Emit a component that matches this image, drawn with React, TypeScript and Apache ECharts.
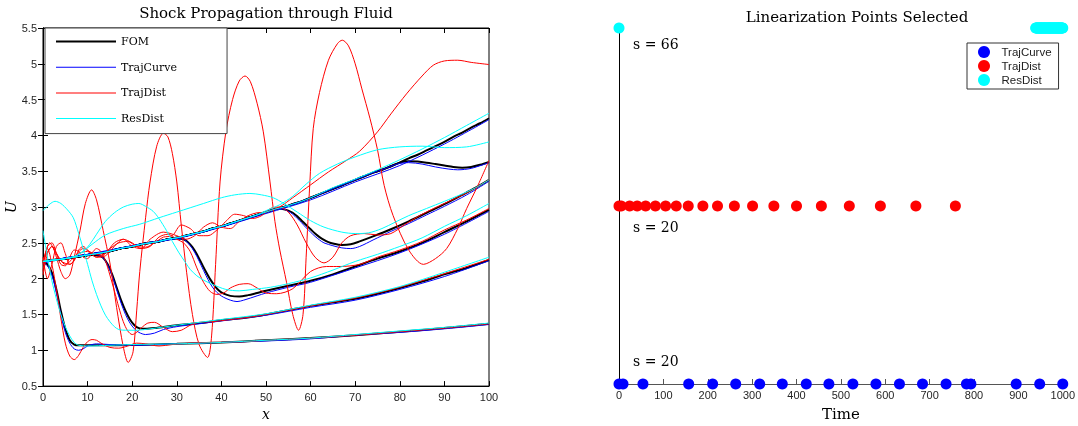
import React, { useEffect, useRef } from 'react';
import * as echarts from 'echarts';

type P = [number, number];

// ---------- Left panel: shock propagation (x, U) ----------
const X_TICKS_LEFT = [0, 10, 20, 30, 40, 50, 60, 70, 80, 90, 100];
const Y_TICKS_LEFT = [0.5, 1, 1.5, 2, 2.5, 3, 3.5, 4, 4.5, 5, 5.5];

// Upstream profile shared by all snapshots before their shock
const UP: P[] = [
  [0, 2.24], [2, 2.26], [4, 2.27], [6, 2.29], [8, 2.31], [10, 2.33], [12, 2.35], [14, 2.37], [16, 2.4],
  [18, 2.43], [20, 2.45], [22, 2.48], [24, 2.5], [26, 2.52], [28, 2.55], [30, 2.57], [32, 2.6], [34, 2.63],
  [36, 2.66], [38, 2.7], [40, 2.73], [42, 2.77], [44, 2.81], [46, 2.85], [48, 2.89], [50, 2.93], [52, 2.97],
  [54, 3.0], [56, 3.04], [58, 3.08], [60, 3.13], [62, 3.18], [64, 3.23], [66, 3.28], [68, 3.33], [70, 3.38],
  [72, 3.43], [74, 3.48], [76, 3.52], [78, 3.57], [80, 3.62], [82, 3.68], [84, 3.73], [86, 3.79], [88, 3.85],
  [90, 3.91], [92, 3.98], [94, 4.04], [96, 4.11], [98, 4.17], [100, 4.24],
];
const upTo = (x: number): P[] => UP.filter((p) => p[0] <= x);

// FOM snapshots
const fomA: P[] = [[0, 2.24], [1, 2.2], [2, 2.08], [3, 1.85], [4, 1.55], [5, 1.3], [6, 1.14], [7, 1.08], [8, 1.07], [12, 1.07], [20, 1.075], [30, 1.09], [40, 1.11], [50, 1.14], [60, 1.17], [70, 1.21], [80, 1.26], [90, 1.31], [100, 1.37]];
const fomB: P[] = [[0, 2.24], [4, 2.27], [8, 2.31], [11, 2.33], [12.5, 2.32], [13.5, 2.29], [14.5, 2.2], [15.5, 2.06], [16.5, 1.88], [17.5, 1.7], [18.5, 1.55], [19.5, 1.43], [20.5, 1.35], [21.5, 1.31], [23, 1.3], [25, 1.31], [30, 1.35], [35, 1.38], [40, 1.42], [45, 1.45], [50, 1.5], [55, 1.56], [60, 1.62], [65, 1.67], [70, 1.72], [75, 1.79], [80, 1.87], [85, 1.96], [90, 2.06], [95, 2.15], [100, 2.26]];
const fomC: P[] = [...upTo(28), [30, 2.56], [31.5, 2.55], [32.5, 2.51], [33.5, 2.44], [34.5, 2.34], [35.5, 2.22], [36.5, 2.1], [37.5, 1.99], [38.5, 1.9], [39.5, 1.83], [40.5, 1.79], [42, 1.76], [44, 1.75], [46, 1.77], [48, 1.8], [50, 1.83], [55, 1.9], [60, 1.97], [65, 2.06], [70, 2.17], [75, 2.28], [80, 2.38], [85, 2.5], [90, 2.65], [95, 2.8], [100, 2.96]];
const fomD: P[] = [...upTo(52), [53, 2.98], [54, 2.97], [55, 2.95], [56, 2.92], [57, 2.87], [58, 2.81], [59, 2.75], [60, 2.69], [61, 2.63], [62, 2.58], [63, 2.54], [64, 2.51], [65, 2.49], [67, 2.47], [69, 2.48], [71, 2.52], [74, 2.59], [78, 2.69], [82, 2.8], [86, 2.92], [90, 3.04], [94, 3.17], [97, 3.27], [100, 3.38]];
const fomD2: P[] = [...upTo(78), [80, 3.62], [82, 3.64], [84, 3.635], [86, 3.62], [88, 3.6], [90, 3.58], [92, 3.56], [94, 3.55], [96, 3.56], [98, 3.59], [100, 3.63]];
const fomE: P[] = UP;

// TrajCurve snapshots
const curveA: P[] = [[0, 2.22], [1, 2.18], [2, 2.05], [3, 1.8], [4, 1.5], [5, 1.25], [6, 1.1], [7, 1.02], [8, 1.0], [9, 1.02], [10, 1.06], [12, 1.09], [15, 1.08], [20, 1.07], [30, 1.09], [40, 1.11], [50, 1.13], [60, 1.16], [70, 1.21], [80, 1.25], [90, 1.3], [100, 1.36]];
const curveB: P[] = [[0, 2.22], [4, 2.28], [8, 2.32], [11, 2.34], [12.5, 2.33], [13.5, 2.29], [14.5, 2.19], [15.5, 2.04], [16.5, 1.85], [17.5, 1.66], [18.5, 1.5], [19.5, 1.38], [20.5, 1.3], [21.5, 1.25], [23, 1.22], [25, 1.24], [27, 1.29], [30, 1.33], [35, 1.37], [40, 1.41], [50, 1.49], [60, 1.6], [70, 1.7], [80, 1.85], [90, 2.03], [100, 2.25]];
const curveC: P[] = [[0, 2.22], [5, 2.29], [10, 2.34], [15, 2.39], [20, 2.46], [25, 2.52], [28, 2.55], [30, 2.56], [31.5, 2.55], [32.5, 2.5], [33.5, 2.42], [34.5, 2.31], [35.5, 2.18], [36.5, 2.05], [37.5, 1.93], [38.5, 1.84], [39.5, 1.78], [40.5, 1.74], [42, 1.7], [43.5, 1.68], [45, 1.7], [48, 1.76], [50, 1.8], [55, 1.88], [60, 1.95], [70, 2.15], [80, 2.36], [90, 2.62], [100, 2.94]];
const curveD: P[] = [...upTo(52), [53, 2.98], [54, 2.97], [55, 2.94], [56, 2.9], [57, 2.84], [58, 2.78], [59, 2.71], [60, 2.65], [61, 2.59], [62, 2.54], [63, 2.5], [65, 2.46], [67, 2.43], [69, 2.42], [71, 2.45], [74, 2.54], [78, 2.66], [82, 2.77], [86, 2.89], [90, 3.01], [95, 3.17], [100, 3.36]];
const curveD2: P[] = [...upTo(78), [80, 3.61], [82, 3.62], [85, 3.6], [88, 3.56], [91, 3.53], [93, 3.52], [96, 3.54], [100, 3.62]];
const curveE: P[] = [[0, 2.22], [5, 2.29], [10, 2.34], [20, 2.46], [30, 2.56], [40, 2.72], [50, 2.91], [60, 3.1], [70, 3.35], [80, 3.58], [90, 3.88], [100, 4.22]];

// TrajDist snapshots
const distA: P[] = [[0, 2.24], [1, 2.42], [2, 2.2], [3, 1.85], [4, 1.45], [5, 1.1], [6, 0.92], [7, 0.87], [8, 0.93], [9, 1.04], [10, 1.12], [11, 1.15], [12, 1.14], [13, 1.1], [15, 1.04], [17, 1.03], [19, 1.06], [21, 1.1], [23, 1.09], [26, 1.06], [29, 1.08], [33, 1.1], [38, 1.11], [45, 1.12], [50, 1.14], [60, 1.17], [70, 1.21], [80, 1.26], [90, 1.31], [100, 1.37]];
const distB: P[] = [[0, 2.1], [1, 2.45], [2, 2.5], [3, 2.35], [4, 2.2], [5, 2.18], [6, 2.3], [7, 2.4], [8, 2.38], [9, 2.3], [10, 2.28], [11, 2.36], [12, 2.42], [13, 2.38], [14, 2.25], [15, 2.05], [16, 1.83], [17, 1.6], [18, 1.4], [19, 1.27], [20, 1.22], [21, 1.25], [22, 1.31], [23.5, 1.38], [25, 1.39], [27, 1.32], [29, 1.26], [31, 1.28], [33, 1.35], [35, 1.39], [38, 1.4], [42, 1.43], [46, 1.46], [50, 1.5], [60, 1.62], [70, 1.73], [80, 1.88], [90, 2.07], [100, 2.27]];
const distC: P[] = [[0, 2.3], [1, 2.0], [2, 2.2], [3, 2.45], [4, 2.5], [5, 2.35], [6, 2.2], [7, 2.25], [8, 2.4], [9, 2.45], [10, 2.4], [12, 2.3], [14, 2.32], [16, 2.45], [18, 2.55], [20, 2.5], [22, 2.42], [24, 2.45], [26, 2.58], [28, 2.62], [30, 2.55], [31.5, 2.5], [33, 2.38], [34.5, 2.15], [36, 1.95], [37.5, 1.82], [39, 1.78], [40.5, 1.8], [42, 1.87], [44, 1.92], [46, 1.93], [48, 1.87], [50, 1.8], [52.4, 1.79], [56, 1.86], [60, 2.1], [63.6, 2.17], [66.6, 2.17], [71, 2.2], [75, 2.3], [80, 2.4], [85, 2.52], [90, 2.68], [95, 2.82], [100, 2.98]];
const distD: P[] = [[0, 2.2], [1.5, 2.5], [3, 2.35], [5, 2.2], [7, 2.3], [9, 2.42], [11, 2.36], [13, 2.33], [15, 2.42], [17, 2.5], [19, 2.52], [21, 2.45], [23, 2.44], [25, 2.5], [27, 2.58], [29, 2.6], [31, 2.75], [33, 2.7], [35, 2.6], [37, 2.6], [39, 2.68], [41, 2.8], [43, 2.9], [45, 2.88], [47, 2.84], [49, 2.88], [51, 2.98], [53, 3.0], [55, 2.93], [57, 2.75], [59, 2.5], [61, 2.3], [63, 2.22], [65, 2.3], [67, 2.5], [69, 2.6], [72, 2.63], [75, 2.61], [78, 2.63], [81, 2.75], [85, 2.9], [90, 3.05], [95, 3.2], [100, 3.38]];
const distD2: P[] = [[0, 2.05], [1, 2.35], [2, 2.45], [3, 2.3], [4, 2.1], [5, 2.0], [6, 2.05], [7, 2.3], [8.3, 2.67], [9.5, 3.05], [10.9, 3.24], [12, 3.1], [13.5, 2.67], [15, 2.22], [16.5, 1.6], [18, 1.05], [19.1, 0.83], [20.2, 0.98], [21, 1.55], [21.7, 2.1], [23, 2.85], [24, 3.35], [25.5, 3.85], [27, 4.03], [28, 3.98], [29, 3.75], [30, 3.35], [31, 2.75], [32.2, 2.09], [33.5, 1.5], [35, 1.08], [36.9, 0.9], [37.8, 1.2], [38.7, 2.2], [39.7, 3.35], [41, 4.05], [42.5, 4.5], [44, 4.76], [45.3, 4.83], [46.5, 4.75], [48, 4.45], [49.4, 4.05], [50.9, 3.35], [52, 2.8], [53.1, 2.4], [54.6, 1.95], [56, 1.5], [57.3, 1.28], [58.3, 1.5], [59, 2.3], [59.8, 3.3], [60.6, 4.1], [62, 4.6], [64, 5.05], [66, 5.28], [67.1, 5.33], [68.5, 5.25], [70, 5.0], [71.5, 4.65], [73.3, 4.24], [75, 3.8], [76.5, 3.3], [78.5, 2.88], [82, 2.4], [85.3, 2.2], [88, 2.28], [90.5, 2.42], [93, 2.7], [95, 2.98], [97.5, 3.3], [100, 3.65]];
const distE: P[] = [[0, 2.24], [2, 2.45], [4, 2.25], [6, 2.2], [8, 2.35], [10, 2.38], [12, 2.3], [14, 2.35], [16, 2.5], [18, 2.55], [20, 2.45], [22, 2.42], [24, 2.55], [27, 2.65], [30, 2.6], [32, 2.55], [34, 2.6], [36, 2.72], [38, 2.78], [40, 2.72], [42, 2.7], [44, 2.8], [46, 2.88], [48, 2.92], [50, 2.93], [53, 3.0], [56, 3.13], [60, 3.31], [64, 3.49], [68, 3.65], [71, 3.78], [75, 4.05], [78, 4.3], [81.5, 4.58], [85, 4.83], [87.5, 4.98], [90, 5.04], [93, 5.05], [96, 5.02], [100, 4.99]];

// ResDist snapshots
const resA: P[] = [[0, 2.67], [1, 2.3], [2, 1.97], [3, 1.72], [4, 1.5], [5, 1.33], [6, 1.2], [7, 1.11], [8, 1.07], [10, 1.06], [15, 1.07], [20, 1.08], [30, 1.09], [40, 1.11], [50, 1.14], [60, 1.17], [70, 1.22], [80, 1.27], [90, 1.32], [100, 1.38]];
const resB: P[] = [[0, 2.95], [1.5, 3.04], [2.7, 3.08], [4, 3.05], [5.5, 2.96], [6.8, 2.85], [8, 2.63], [9, 2.42], [10, 2.2], [11, 1.97], [12, 1.78], [13, 1.62], [14, 1.49], [15, 1.4], [16, 1.33], [17, 1.29], [18.5, 1.28], [21, 1.28], [24, 1.3], [30, 1.35], [40, 1.43], [50, 1.51], [60, 1.63], [70, 1.74], [80, 1.89], [90, 2.09], [100, 2.3]];
const resC: P[] = [[0, 2.24], [4, 2.27], [7, 2.31], [9, 2.38], [10.5, 2.48], [12, 2.62], [14, 2.8], [16, 2.92], [18, 3.0], [20, 3.04], [21.5, 3.05], [23, 3.01], [24.7, 2.94], [26, 2.84], [27.7, 2.67], [29, 2.52], [30.5, 2.36], [32, 2.22], [33, 2.13], [34.5, 2.04], [36, 1.98], [38, 1.92], [41, 1.85], [44, 1.83], [47, 1.85], [51, 1.88], [55, 1.93], [60, 2.01], [65, 2.12], [70, 2.24], [75, 2.34], [80, 2.45], [85, 2.57], [90, 2.73], [95, 2.88], [100, 3.05]];
const resD: P[] = [[0, 2.24], [4, 2.27], [7, 2.31], [9, 2.38], [11, 2.48], [14, 2.61], [18, 2.7], [21.7, 2.76], [26, 2.85], [30, 2.93], [33, 2.99], [36, 3.05], [40, 3.13], [43, 3.17], [46.4, 3.19], [49, 3.17], [51.6, 3.13], [54, 3.05], [57, 2.93], [60, 2.81], [63, 2.72], [67, 2.65], [70, 2.63], [73, 2.64], [76, 2.7], [79, 2.79], [82, 2.88], [86, 2.98], [90, 3.08], [93.5, 3.17], [97, 3.27], [100, 3.38]];
const resD2: P[] = [...upTo(48), [50, 2.95], [53, 3.03], [56, 3.15], [59, 3.32], [62, 3.47], [66, 3.6], [70, 3.7], [75, 3.8], [80, 3.84], [85, 3.85], [90, 3.83], [95, 3.84], [100, 3.91]];
const resE: P[] = [...upTo(60), [65, 3.27], [70, 3.39], [75, 3.52], [80, 3.66], [85, 3.81], [90, 3.97], [95, 4.14], [100, 4.31]];

const FOM_SNAPS = [fomA, fomB, fomC, fomD, fomD2, fomE];
const CURVE_SNAPS = [curveA, curveB, curveC, curveD, curveD2, curveE];
const DIST_SNAPS = [distA, distB, distC, distD, distD2, distE];
const RES_SNAPS = [resA, resB, resC, resD, resD2, resE];

// ---------- Right panel: linearization points ----------
const X_TICKS_RIGHT = [0, 100, 200, 300, 400, 500, 600, 700, 800, 900, 1000];
const LEVEL_CURVE = 0;
const LEVEL_DIST = 1;
const LEVEL_RES = 2;
const trajCurveTimes = [0, 9, 54, 157, 211, 263, 317, 368, 422, 473, 527, 579, 632, 684, 737, 783, 793, 895, 948, 1000];
const trajDistTimes = [0, 5, 24, 41, 60, 82, 105, 129, 156, 189, 222, 260, 301, 349, 400, 456, 519, 589, 669, 758];
const resDistTimes = [0, 939, 940, 941, 942, 943, 944, 945, 946, 947, 948, 949, 950, 950.5, 951, 952, 953, 954, 955, 956, 957, 958, 959, 960, 961, 962, 963, 964, 965, 966, 967, 968, 969, 970, 970.5, 971, 972, 973, 974, 975, 976, 977, 978, 979, 980, 981, 982, 983, 984, 985, 986, 987, 988, 989, 990, 990.5, 991, 992, 993, 994, 995, 996, 997, 998, 999, 1000];
const COUNT_LABELS = ['s = 66', 's = 20', 's = 20'];

const SERIF = "'DejaVu Serif', serif";
const SANS = "'Liberation Sans', Arial, sans-serif";

export default function App() {
  const ref = useRef<HTMLDivElement>(null);
  useEffect(() => {
    if (!ref.current) return;
    const chart = echarts.init(ref.current, undefined, { renderer: 'svg' });

    const mkLine = (name: string, color: string, width: number, data: P[]) => ({
      type: 'line', name, data, xAxisIndex: 0, yAxisIndex: 0, symbol: 'none', showSymbol: false,
      smooth: 0.3, lineStyle: { color, width }, itemStyle: { color }, silent: true,
    });
    const lines: any[] = [];
    FOM_SNAPS.forEach((d) => lines.push(mkLine('FOM', '#000000', 2, d)));
    CURVE_SNAPS.forEach((d) => lines.push(mkLine('TrajCurve', '#0000ff', 1, d)));
    DIST_SNAPS.forEach((d) => lines.push(mkLine('TrajDist', '#ff0000', 1, d)));
    RES_SNAPS.forEach((d) => lines.push(mkLine('ResDist', '#00ffff', 1, d)));

    const mkScatter = (name: string, color: string, times: number[], level: number) => ({
      type: 'scatter', name, xAxisIndex: 2, yAxisIndex: 2, symbol: 'circle', symbolSize: 11,
      itemStyle: { color, opacity: 1 }, clip: false, silent: true,
      data: times.map((t) => [t, level]),
    });

    const tickLabel = { color: '#262626', fontSize: 11, fontFamily: SANS };

    chart.setOption({
      animation: false,
      grid: [
        { left: 43, top: 28, width: 446, height: 366.5, show: true, borderColor: '#000', borderWidth: 1, backgroundColor: 'transparent' },
        { left: 619, top: 28, width: 447, height: 366 },
      ],
      xAxis: [
        {
          gridIndex: 0, type: 'value', min: 0, max: 100, interval: 10, position: 'bottom',
          axisLine: { show: true, lineStyle: { color: '#000' } },
          axisTick: { show: true, inside: true, length: 5, lineStyle: { color: '#000' } },
          axisLabel: { ...tickLabel, margin: 5, formatter: (v: number) => (X_TICKS_LEFT.includes(v) ? String(v) : '') },
          splitLine: { show: false },
          name: 'x', nameLocation: 'middle', nameGap: 17,
          nameTextStyle: { fontFamily: SERIF, fontStyle: 'italic', fontSize: 14, color: '#000' },
        },
        {
          gridIndex: 0, type: 'value', min: 0, max: 100, interval: 10, position: 'top',
          axisLine: { show: true, lineStyle: { color: '#000' } },
          axisTick: { show: true, inside: true, length: 5, lineStyle: { color: '#000' } },
          axisLabel: { show: false }, splitLine: { show: false },
        },
        {
          gridIndex: 1, type: 'value', min: 0, max: 1000, interval: 100, position: 'bottom',
          axisLine: { show: true, lineStyle: { color: '#555' } },
          axisTick: { show: true, inside: true, length: 5, lineStyle: { color: '#555' } },
          axisLabel: { ...tickLabel, margin: 5, formatter: (v: number) => (X_TICKS_RIGHT.includes(v) ? String(v) : '') },
          splitLine: { show: false },
          name: 'Time', nameLocation: 'middle', nameGap: 22,
          nameTextStyle: { fontFamily: SERIF, fontSize: 15, color: '#000' },
        },
      ],
      yAxis: [
        {
          gridIndex: 0, type: 'value', min: 0.5, max: 5.5, interval: 0.5, position: 'left',
          axisLine: { show: true, lineStyle: { color: '#000' } },
          axisTick: { show: true, inside: true, length: 5, lineStyle: { color: '#000' } },
          axisLabel: { ...tickLabel, margin: 6, formatter: (v: number) => (Y_TICKS_LEFT.includes(v) ? String(v) : '') },
          splitLine: { show: false },
          name: 'U', nameLocation: 'middle', nameGap: 23, nameRotate: 90,
          nameTextStyle: { fontFamily: SERIF, fontStyle: 'italic', fontSize: 14, color: '#000' },
        },
        {
          gridIndex: 0, type: 'value', min: 0.5, max: 5.5, interval: 0.5, position: 'right',
          axisLine: { show: true, lineStyle: { color: '#000' } },
          axisTick: { show: true, inside: true, length: 5, lineStyle: { color: '#000' } },
          axisLabel: { show: false }, splitLine: { show: false },
        },
        {
          gridIndex: 1, type: 'value', min: 0, max: 2, position: 'left',
          axisLine: { show: true, onZero: false, lineStyle: { color: '#000' } },
          axisTick: { show: false }, axisLabel: { show: false }, splitLine: { show: false },
        },
      ],
      legend: [
        {
          orient: 'vertical', left: 45, top: 28, padding: [8, 50, 9.5, 11], itemGap: 14.7,
          itemWidth: 60, itemHeight: 11, backgroundColor: '#fff', borderColor: '#444', borderWidth: 1,
          selectedMode: false,
          textStyle: { fontFamily: SERIF, fontSize: 11, color: '#000' },
          data: [
            { name: 'FOM', icon: 'path://M0,0L60,0L60,2L0,2Z' },
            { name: 'TrajCurve', icon: 'path://M0,0L60,0L60,1L0,1Z' },
            { name: 'TrajDist', icon: 'path://M0,0L60,0L60,1L0,1Z' },
            { name: 'ResDist', icon: 'path://M0,0L60,0L60,1L0,1Z' },
          ],
        },
        {
          orient: 'vertical', left: 967, top: 43, padding: [3, 7, 3, 11], itemGap: 2,
          itemWidth: 25, itemHeight: 12, backgroundColor: '#fff', borderColor: '#333', borderWidth: 1,
          selectedMode: false,
          textStyle: { fontFamily: SANS, fontSize: 11.5, color: '#222' },
          data: [
            { name: 'TrajCurve', icon: 'circle' },
            { name: 'TrajDist', icon: 'circle' },
            { name: 'ResDist', icon: 'circle' },
          ],
        },
      ],
      graphic: [
        { type: 'text', x: 266, y: 13, style: { text: 'Shock Propagation through Fluid', fontFamily: SERIF, fontSize: 15, fill: '#000', align: 'center', verticalAlign: 'middle', textAlign: 'center', textVerticalAlign: 'middle' } },
        { type: 'text', x: 857, y: 17, style: { text: 'Linearization Points Selected', fontFamily: SERIF, fontSize: 15, fill: '#000', align: 'center', verticalAlign: 'middle', textAlign: 'center', textVerticalAlign: 'middle' } },
        { type: 'text', x: 633, y: 44, style: { text: COUNT_LABELS[0], fontFamily: SERIF, fontSize: 14, fill: '#000', align: 'left', verticalAlign: 'middle', textVerticalAlign: 'middle' } },
        { type: 'text', x: 633, y: 227, style: { text: COUNT_LABELS[1], fontFamily: SERIF, fontSize: 14, fill: '#000', align: 'left', verticalAlign: 'middle', textVerticalAlign: 'middle' } },
        { type: 'text', x: 633, y: 361, style: { text: COUNT_LABELS[2], fontFamily: SERIF, fontSize: 14, fill: '#000', align: 'left', verticalAlign: 'middle', textVerticalAlign: 'middle' } },
      ],
      series: [
        ...lines,
        mkScatter('TrajCurve', '#0000ff', trajCurveTimes, LEVEL_CURVE),
        mkScatter('TrajDist', '#ff0000', trajDistTimes, LEVEL_DIST),
        mkScatter('ResDist', '#00ffff', resDistTimes, LEVEL_RES),
      ],
    });
    return () => chart.dispose();
  }, []);
  return <div ref={ref} style={{ position: 'fixed', left: 0, top: 0, width: 1078, height: 426 }} />;
}
